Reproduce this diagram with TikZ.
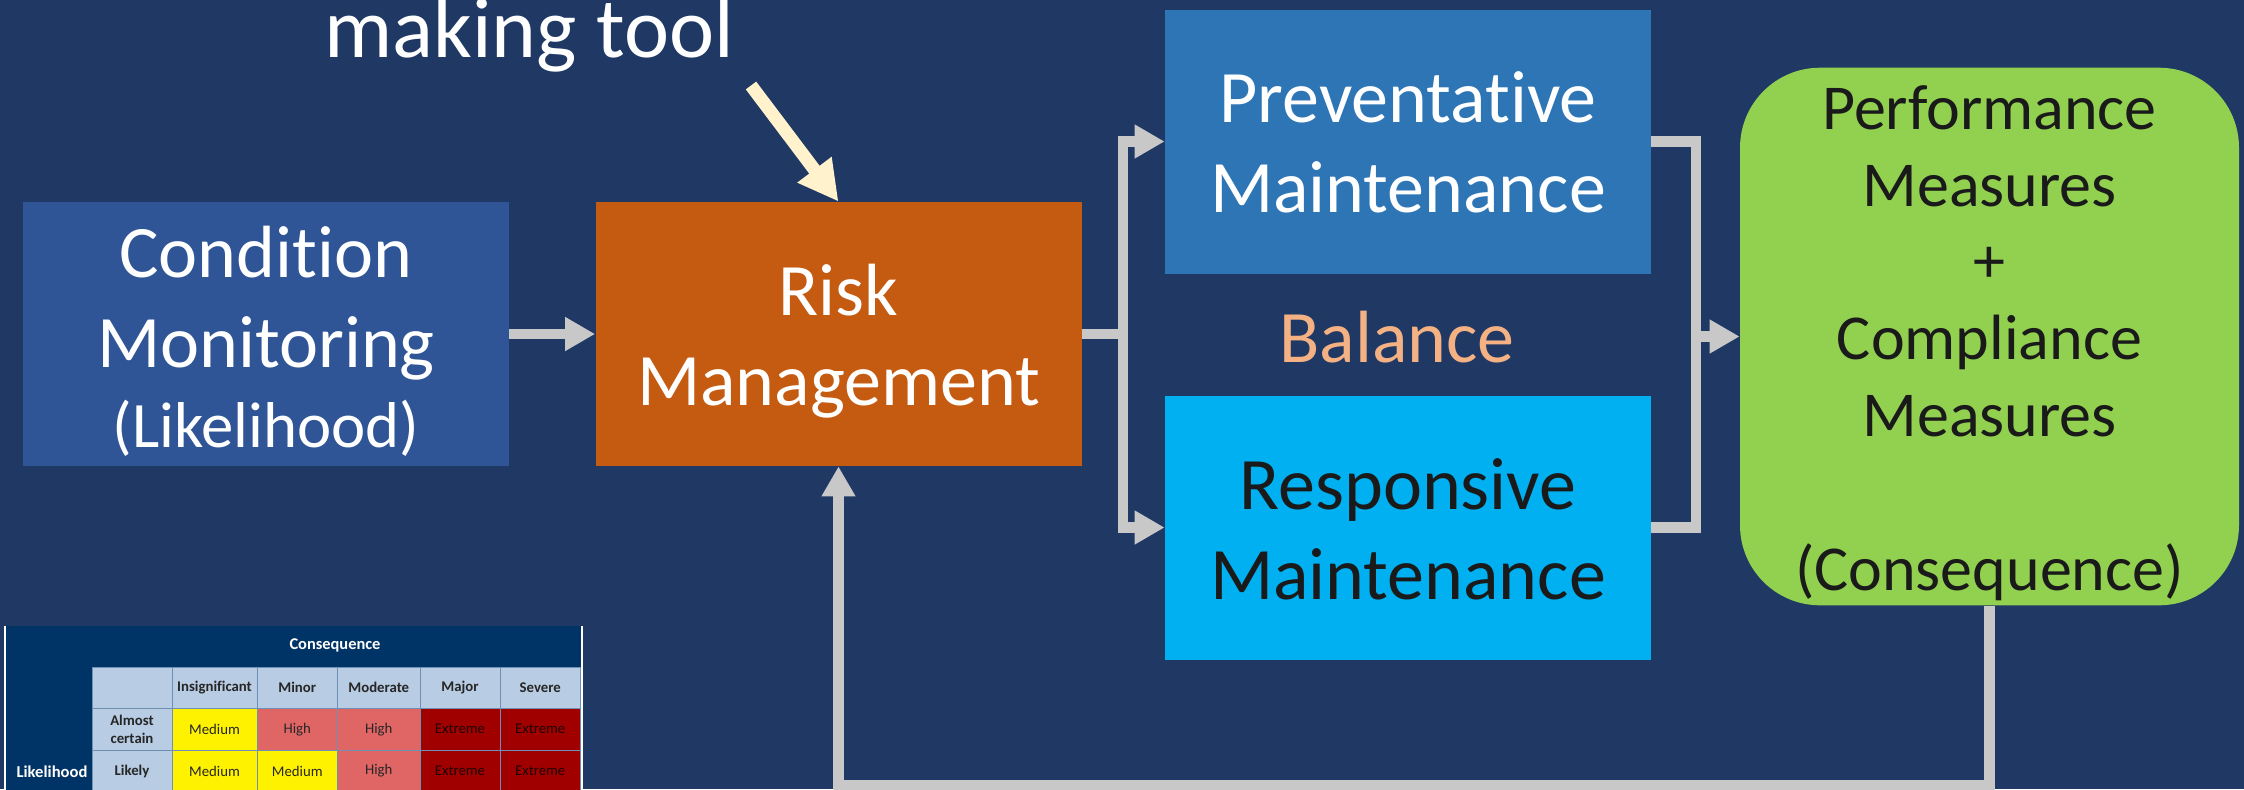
\documentclass[tikz,border=0pt]{standalone}
\usepackage{fontspec}
\setmainfont{Carlito}[Ligatures=NoCommon]
\usetikzlibrary{arrows.meta}
\definecolor{bg}{HTML}{203864}
\definecolor{condc}{HTML}{2F5597}
\definecolor{riskc}{HTML}{C55A11}
\definecolor{prevc}{HTML}{2E75B6}
\definecolor{respc}{HTML}{00B0F0}
\definecolor{greenc}{HTML}{92D050}
\definecolor{linec}{HTML}{C8C8C8}
\definecolor{creamc}{HTML}{FFF2CC}
\definecolor{balc}{HTML}{F4B183}
\definecolor{navyc}{HTML}{003366}
\definecolor{lightc}{HTML}{B8CCE4}
\definecolor{redc}{HTML}{E06666}
\definecolor{darkc}{HTML}{A00000}
\definecolor{gridc}{HTML}{6F8FB5}
\definecolor{inkc}{HTML}{1A1A1A}
\tikzset{
  box/.style={rectangle,inner sep=0pt,align=center,text=white},
  bigfont/.style={font=\fontsize{37}{45}\selectfont},
  conn/.style={draw=linec,line width=5.35pt,line join=miter},
  conna/.style={conn,-{Triangle[length=15pt,width=16pt]}},
  cell/.style={rectangle,draw=gridc,line width=0.5pt,inner sep=0pt,align=center,text=black!85,font=\fontsize{7.4}{8.6}\selectfont},
  hcell/.style={cell,fill=lightc,font=\fontsize{7.4}{8.6}\selectfont\bfseries},
  yc/.style={cell,fill=yellow},
  rc/.style={cell,fill=redc},
  dc/.style={cell,fill=darkc,text=black!80!darkc},
}
% lowers a multi-line text inside its box without changing the box
\newcommand{\lowertext}[2]{\raisebox{-#1}[\height][\depth]{\begin{tabular}{@{}c@{}}#2\end{tabular}}}
% \tc{name}{x0}{y0}{x1}{y1}{style}{text}
\newcommand{\tc}[7]{%
  \pgfmathsetmacro{\tcx}{(#2+#4)/2}\pgfmathsetmacro{\tcy}{(#3+#5)/2}%
  \pgfmathsetmacro{\tcw}{(#4-#2)/2}\pgfmathsetmacro{\tch}{(#5-#3)/2}%
  \node[#6,minimum width=\tcw pt,minimum height=\tch pt] (#1) at (\tcx,\tcy) {#7};}
\begin{document}
\begin{tikzpicture}[x=0.5pt,y=-0.5pt]
\useasboundingbox (0,0) rectangle (2244,789);
\clip (0,0) rectangle (2244,789);
\fill[bg] (0,0) rectangle (2244,789);

% boxes
\node[box,bigfont,fill=condc,minimum width=243pt,minimum height=132pt] (cond) at (266,334)
  {\lowertext{5pt}{Condition\\Monitoring\\[-5pt]{\fontsize{32.4}{38}\selectfont (Likelihood)}}};
\node[box,bigfont,fill=riskc,minimum width=243pt,minimum height=132pt] (risk) at (838.5,334)
  {\lowertext{4pt}{Risk\\Management}};
\node[box,bigfont,fill=prevc,minimum width=243pt,minimum height=132pt] (prev) at (1408,141.5)
  {\lowertext{3.8pt}{Preventative\\Maintenance}};
\node[box,bigfont,fill=respc,text=inkc,minimum width=243pt,minimum height=132pt] (resp) at (1408,527.5)
  {\lowertext{4.6pt}{Responsive\\Maintenance}};
\node[box,fill=greenc,text=inkc,rounded corners=40pt,minimum width=249.5pt,minimum height=268.5pt,
  font=\fontsize{32}{38.4}\selectfont] (green) at (1989.5,336.5)
  {\lowertext{3.9pt}{Performance\\Measures\\+\\Compliance\\Measures\\ \\(Consequence)}};
\node[text=balc,inner sep=0pt,font=\fontsize{37}{45}\selectfont] (bal) at (1397,337) {Balance};
\node[text=white,inner sep=0pt,anchor=base,font=\fontsize{42.7}{50}\selectfont] (tool) at (529,57) {making tool};

% connectors
\coordinate (busL) at (1123,334);
\coordinate (busR) at (1696,336.5);
\coordinate (fb) at (838.5,785);
\coordinate (toolarrow) at (751,85.5);
\draw[conna] (cond.east) -- (risk.west);
\draw[conn] (risk.east) -- (busL);
\draw[conna] (busL) |- (prev.west);
\draw[conna] (busL) |- (resp.west);
\draw[conn] (prev.east) -| (busR);
\draw[conn] (resp.east) -| (busR);
\draw[conna] (busR) -- (green.west);
\draw[conna] (green.south) |- (fb) -- (risk.south);
\draw[creamc,line width=6.5pt,-{Triangle[length=20pt,width=20pt]}] (toolarrow) -- (risk.north);

% embedded risk table
\fill[white] (4,626) rectangle (582.5,800);
\node[rectangle,fill=navyc,inner sep=0pt,minimum width=287.5pt,minimum height=90pt,anchor=north west] (tablebg) at (5.5,625.5) {};
\node[text=white,inner sep=0pt,font=\fontsize{8.2}{9.5}\selectfont\bfseries] (tconseq) at (335,645) {Consequence};
\node[text=white,inner sep=0pt,font=\fontsize{8.3}{9.5}\selectfont\bfseries] (tlike) at (52,771.5) {Likelihood};
\tc{h0}{92}{667}{172}{708.5}{hcell}{}
\tc{h1}{172}{667}{257}{708.5}{hcell}{Insignificant}
\tc{h2}{257}{667}{337.5}{708.5}{hcell}{Minor}
\tc{h3}{337.5}{667}{420}{708.5}{hcell}{Moderate}
\tc{h4}{420}{667}{500}{708.5}{hcell}{Major}
\tc{h5}{500}{667}{580.5}{708.5}{hcell}{Severe}
\tc{a0}{92}{708.5}{172}{750}{hcell}{Almost\\certain}
\tc{a1}{172}{708.5}{257}{750}{yc}{Medium}
\tc{a2}{257}{708.5}{337.5}{750}{rc}{High}
\tc{a3}{337.5}{708.5}{420}{750}{rc}{High}
\tc{a4}{420}{708.5}{500}{750}{dc}{Extreme}
\tc{a5}{500}{708.5}{580.5}{750}{dc}{Extreme}
\tc{b0}{92}{750}{172}{792}{hcell}{Likely}
\tc{b1}{172}{750}{257}{792}{yc}{Medium}
\tc{b2}{257}{750}{337.5}{792}{yc}{Medium}
\tc{b3}{337.5}{750}{420}{792}{rc}{High}
\tc{b4}{420}{750}{500}{792}{dc}{Extreme}
\tc{b5}{500}{750}{580.5}{792}{dc}{Extreme}
\end{tikzpicture}
\end{document}
